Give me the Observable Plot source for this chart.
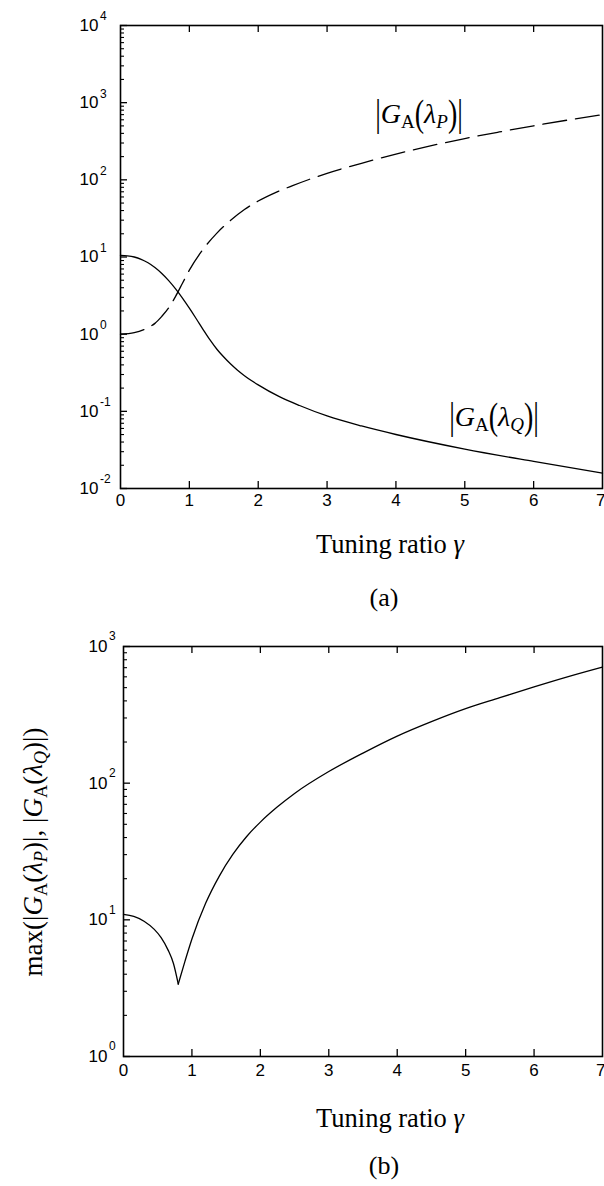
<!DOCTYPE html>
<html><head><meta charset="utf-8">
<script src="https://cdn.jsdelivr.net/npm/d3@7"></script>
<script src="https://cdn.jsdelivr.net/npm/@observablehq/plot@0.6"></script>
<style>
body{margin:0;background:#fff;}
#page{position:relative;width:604px;height:1186px;overflow:hidden;background:#fff;}
.serif{font-family:"Liberation Serif","Times New Roman",serif;color:#000;position:absolute;white-space:nowrap;line-height:1;}
.c{transform:translate(-50%,-50%);}
.rot{transform:translate(-50%,-50%) rotate(-90deg);}
sub{font-size:0.68em;vertical-align:-0.28em;line-height:0;}
.tall{display:inline-block;transform:scaleY(1.35);}
</style></head><body>
<div id="page">
  <div id="plotA" style="position:absolute;left:0;top:0"></div>
  <div id="plotB" style="position:absolute;left:0;top:620px"></div>

  <div class="serif c" style="left:419px;top:114px;font-size:28px"><span class="tall">|</span><i>G</i><sub>A</sub><span class="tall">(</span><i>λ<sub>P</sub></i><span class="tall">)</span><span class="tall">|</span></div>
  <div class="serif c" style="left:494px;top:417px;font-size:28px"><span class="tall">|</span><i>G</i><sub>A</sub><span class="tall">(</span><i>λ<sub>Q</sub></i><span class="tall">)</span><span class="tall">|</span></div>

  <div class="serif c" style="left:390px;top:544px;font-size:26.5px">Tuning ratio <i>γ</i></div>
  <div class="serif c" style="left:384px;top:598px;font-size:26px">(a)</div>

  <div class="serif rot" style="left:33px;top:852px;font-size:27px">max(|<i>G</i><sub>A</sub>(<i>λ<sub>P</sub></i>)|, |<i>G</i><sub>A</sub>(<i>λ<sub>Q</sub></i>)|)</div>
  <div class="serif c" style="left:390px;top:1118px;font-size:26.5px">Tuning ratio <i>γ</i></div>
  <div class="serif c" style="left:384px;top:1166px;font-size:26px">(b)</div>
</div>
<script>
// Panel (a): |G_A(lambda_P)| (dashed)
const gammaP = [0, 0.2, 0.4, 0.5, 0.6, 0.7, 0.8, 0.9, 1.0, 1.2, 1.4, 1.6, 1.8, 2.0, 2.25, 2.5, 3.0, 3.5, 4.0, 4.5, 5.0, 5.5, 6.0, 6.5, 7.0];
const valueP = [1.0, 1.047, 1.216, 1.38, 1.70, 2.19, 3.09, 4.57, 6.76, 12.6, 20.4, 29.9, 41.2, 53.1, 68.4, 84.1, 121.6, 164, 216, 275, 343, 417, 501, 596, 700];
// Panel (a): |G_A(lambda_Q)| (solid)
const gammaQ = [0, 0.1, 0.2, 0.3, 0.4, 0.5, 0.6, 0.7, 0.8, 0.9, 1.0, 1.1, 1.2, 1.3, 1.4, 1.5, 1.6, 1.7, 1.8, 1.9, 2.0, 2.3, 2.6, 3.0, 3.5, 4.0, 5.0, 6.0, 7.0];
const valueQ = [10.5, 10.35, 10.0, 9.33, 8.41, 7.29, 6.11, 4.94, 3.86, 2.93, 2.17, 1.585, 1.148, 0.841, 0.638, 0.505, 0.410, 0.341, 0.290, 0.251, 0.220, 0.156, 0.119, 0.0871, 0.0646, 0.0501, 0.0324, 0.0224, 0.0158];
// Panel (b): max(|G_A(lambda_P)|, |G_A(lambda_Q)|), left and right of the minimum
const gammaMaxLeft = [0, 0.15, 0.3, 0.45, 0.55, 0.65, 0.73, 0.80];
const valueMaxLeft = [10.96, 10.59, 9.77, 8.51, 7.41, 6.03, 4.79, 3.39];
const gammaMaxRight = [0.80, 0.9, 1.0, 1.2, 1.4, 1.6, 1.8, 2.0, 2.25, 2.5, 3.0, 3.5, 4.0, 4.5, 5.0, 5.5, 6.0, 6.5, 7.0];
const valueMaxRight = [3.39, 5.01, 7.24, 13.2, 20.9, 30.2, 40.7, 51.9, 67.1, 84.1, 121.6, 166, 221, 282, 351, 422, 507, 603, 708];

const xTicks = [0, 1, 2, 3, 4, 5, 6, 7];
const yExpA = [-2, -1, 0, 1, 2, 3, 4];
const yExpB = [0, 1, 2, 3];

const rows = (xs, ys) => xs.map((g, i) => ({g, v: ys[i]}));
const innerX = xTicks.slice(1, -1);
const lastX = xTicks.slice(-1);
const otherX = xTicks.slice(0, -1);

function panel({width, height, mt, mb, ml, mr, yDomain, exps, lines, labDx, expDy, xLabDy}) {
  const fw = width - ml - mr, fh = height - mt - mb;
  const all = d3.scaleLog().domain(yDomain).ticks();
  const major = exps.map(e => 10 ** e);
  const minor = all.filter(t => !major.some(m => Math.abs(m - t) / m < 1e-9));
  const font = "'Liberation Sans', Arial, sans-serif";
  return Plot.plot({
    width, height, marginTop: mt, marginBottom: mb, marginLeft: ml, marginRight: mr,
    x: {domain: [0, 7], axis: null},
    y: {type: "log", domain: yDomain, axis: null},
    style: {fontFamily: font, background: "#fff", color: "#000"},
    marks: [
      Plot.ruleX(innerX, {x: d => d, insetTop: fh - 7, stroke: "#000", strokeWidth: 1.3}),
      Plot.ruleX(innerX, {x: d => d, insetBottom: fh - 7, stroke: "#000", strokeWidth: 1.3}),
      Plot.ruleY(major, {y: d => d, insetRight: fw - 7, stroke: "#000", strokeWidth: 1.3}),
      Plot.ruleY(minor, {y: d => d, insetRight: fw - 4, stroke: "#000", strokeWidth: 1.1}),
      Plot.frame({stroke: "#000", strokeWidth: 1.6}),
      ...lines,
      Plot.text(exps, {frameAnchor: "left", y: e => 10 ** e, text: () => "10", textAnchor: "end", dx: labDx, fontSize: 17, fill: "#000"}),
      Plot.text(exps, {frameAnchor: "left", y: e => 10 ** e, text: e => String(e), textAnchor: "start", dx: labDx + 1.5, dy: expDy, fontSize: 12, fill: "#000"}),
      Plot.text(otherX, {x: d => d, frameAnchor: "bottom", text: d => String(d), dy: xLabDy, fontSize: 17, fill: "#000"}),
      Plot.text(lastX, {x: d => d, frameAnchor: "bottom", text: d => String(d), dy: xLabDy, dx: 3, textAnchor: "end", fontSize: 17, fill: "#000"})
    ]
  });
}

const lineStyle = {x: "g", y: "v", stroke: "#000", strokeWidth: 1.3, curve: "monotone-x"};

document.getElementById("plotA").append(panel({
  width: 604, height: 530, mt: 25, mb: 42, ml: 120, mr: 2,
  yDomain: [1e-2, 1e4], exps: yExpA, labDx: -22, expDy: -9, xLabDy: 17,
  lines: [
    Plot.line(rows(gammaP, valueP), {...lineStyle, strokeDasharray: "24,9"}),
    Plot.line(rows(gammaQ, valueQ), lineStyle)
  ]
}));

document.getElementById("plotB").append(panel({
  width: 604, height: 480, mt: 26, mb: 44, ml: 123, mr: 2,
  yDomain: [1, 1e3], exps: yExpB, labDx: -16, expDy: -10, xLabDy: 19,
  lines: [
    Plot.line(rows(gammaMaxLeft, valueMaxLeft), lineStyle),
    Plot.line(rows(gammaMaxRight, valueMaxRight), lineStyle)
  ]
}));
</script>
</body></html>
